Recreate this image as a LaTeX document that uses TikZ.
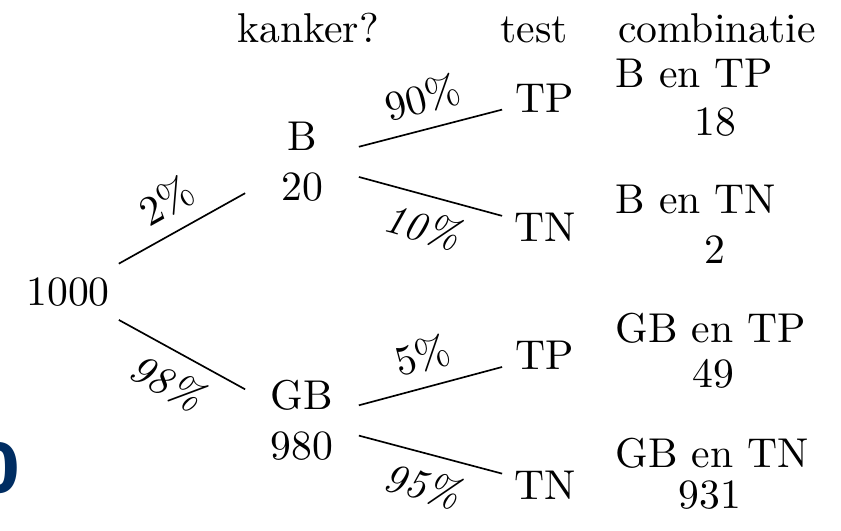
\documentclass[tikz,border=0pt]{standalone}
\usepackage{amssymb,amsmath}
\usepackage{fontspec}
\newfontfamily\slidefont{Fira Sans}
\usetikzlibrary{calc}
\definecolor{slideblue}{RGB}{0,45,98}

\begin{document}
\begin{tikzpicture}[x=0.24pt,y=-0.24pt,
	root/.style={inner sep=0pt,minimum width=24pt,minimum height=14pt},
	pop/.style={inner sep=0pt,minimum width=26.9pt,align=center},
	leaf/.style={inner sep=0pt,minimum width=20.2pt},
	pctup/.style={sloped,above,midway},
	pctdown/.style={sloped,below,midway,font=\itshape}]
	\useasboundingbox (0,0) rectangle (841,530);
	
	% kolomkoppen
	\node[anchor=base] (hK) at (308,42) {kanker?};
	\node[anchor=base] (hT) at (534,42) {test};
	\node[anchor=base] (hC) at (717,42) {combinatie};
	
	\coordinate (A) at (68,292);
	\coordinate (AB) at (302,161.5);
	\coordinate (AC) at (302,420.5);
	\node[root] (n1000) at (A) {1000};
	\node[pop] (nB) at (AB) {B\\20};
	\node[pop] (nGB) at (AC) {GB\\980};
	
	\draw (n1000)--(nB) node[pctup]{2\%};
	\draw (n1000)--(nGB) node[pctdown]{98\%};
	
	% test
	\node[leaf] (nBTP) at (545,98.5) {TP};
	\node[leaf] (nBTN) at (545,227.5) {TN};
	\node[leaf] (nGBTP) at (545,355.5) {TP};
	\node[leaf] (nGBTN) at (545,485) {TN};
	
	\draw (nB)--(nBTP) node[pctup]{90\%};
	\draw (nB)--(nBTN) node[pctdown]{10\%};
	\draw (nGB)--(nGBTP) node[pctup]{5\%};
	\draw (nGB)--(nGBTN) node[pctdown]{95\%};
	
	% combinaties
	\node[anchor=base west,inner sep=0pt] (cBTP) at (615,87) {B en TP};
	\node[anchor=base,inner sep=0pt] (kBTP) at (715,135) {18};
	\node[anchor=base west,inner sep=0pt] (cBTN) at (615,213) {B en TN};
	\node[anchor=base,inner sep=0pt] (kBTN) at (715,263) {2};
	\node[anchor=base west,inner sep=0pt] (cGBTP) at (615,342) {GB en TP};
	\node[anchor=base,inner sep=0pt] (kGBTP) at (713,387) {49};
	\node[anchor=base west,inner sep=0pt] (cGBTN) at (615,467) {GB en TN};
	\node[anchor=base,inner sep=0pt] (kGBTN) at (710,508) {931};
	
	\node[anchor=base east,inner sep=0pt,text=slideblue,font=\slidefont\bfseries\fontsize{17.4}{20}\selectfont] (slide) at (21,492) {0};
\end{tikzpicture}
\end{document}
